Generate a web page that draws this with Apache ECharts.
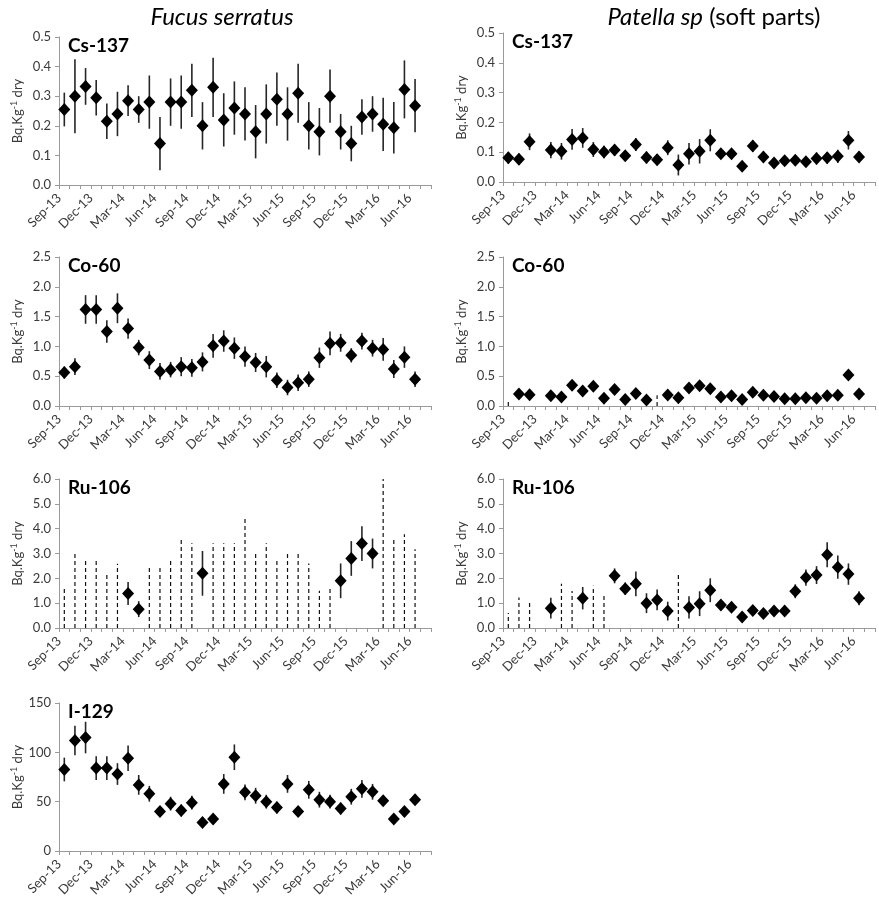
<!DOCTYPE html>
<html><head><meta charset="utf-8">
<script src="https://cdn.jsdelivr.net/npm/echarts@6/dist/echarts.min.js"></script>
<style>html,body{margin:0;padding:0;background:#fff}#c{width:879px;height:908px}</style>
</head><body><div id="c"></div>
<script>
// ---- Data ----
const months = ['Sep-13','Oct-13','Nov-13','Dec-13','Jan-14','Feb-14','Mar-14','Apr-14','May-14','Jun-14','Jul-14','Aug-14',
  'Sep-14','Oct-14','Nov-14','Dec-14','Jan-15','Feb-15','Mar-15','Apr-15','May-15','Jun-15','Jul-15','Aug-15',
  'Sep-15','Oct-15','Nov-15','Dec-15','Jan-16','Feb-16','Mar-16','Apr-16','May-16','Jun-16'];

// Fucus serratus
const fucusCs = [0.255,0.30,0.333,0.295,0.215,0.24,0.285,0.255,0.28,0.14,0.28,0.28,0.32,0.20,0.33,0.22,0.26,0.24,0.18,0.24,0.29,0.24,0.31,0.20,0.18,0.30,0.18,0.14,0.23,0.24,0.205,0.193,0.323,0.268];
const fucusCsErr = [0.057,0.125,0.062,0.06,0.06,0.075,0.052,0.045,0.09,0.09,0.08,0.09,0.09,0.08,0.10,0.09,0.09,0.09,0.09,0.10,0.09,0.09,0.10,0.08,0.08,0.09,0.06,0.06,0.06,0.06,0.09,0.087,0.098,0.09];

const fucusCo = [0.56,0.66,1.62,1.62,1.25,1.64,1.30,0.98,0.77,0.58,0.61,0.66,0.64,0.74,1.01,1.09,0.97,0.83,0.73,0.66,0.43,0.31,0.39,0.45,0.81,1.05,1.06,0.85,1.09,0.97,0.95,0.62,0.82,0.45];
const fucusCoErr = [0.10,0.14,0.24,0.24,0.19,0.25,0.17,0.13,0.15,0.14,0.13,0.16,0.15,0.16,0.20,0.18,0.18,0.17,0.16,0.18,0.13,0.13,0.14,0.13,0.17,0.20,0.15,0.12,0.14,0.14,0.19,0.15,0.18,0.13];

const fucusRu = [null,null,null,null,null,null,1.39,0.76,null,null,null,null,null,2.2,null,null,null,null,null,null,null,null,null,null,null,null,1.9,2.8,3.4,3.0,null,null,null,null];
const fucusRuErr = [null,null,null,null,null,null,0.46,0.32,null,null,null,null,null,0.9,null,null,null,null,null,null,null,null,null,null,null,null,0.7,0.7,0.7,0.6,null,null,null,null];
const fucusRuLimit = [1.57,2.98,2.75,2.72,2.17,2.59,null,null,2.42,2.42,2.79,3.6,3.41,null,3.41,3.41,3.41,4.42,2.99,3.41,2.8,3.02,3.02,2.6,1.5,1.61,null,null,null,null,6.0,3.58,3.78,3.17];

const fucusI = [82.6,112,115,84,84,78,94,67,58,40,48,41,49,29,32.5,68,95,59.5,56,50,44,68,40,62,52,50,43,55,63,60,51,32.5,40,52];
const fucusIErr = [12,15,16,12,12,11,13,10,8,5,7,6,7,3,3,10,13,8,8,7,6,9,4,9,8,7,6,8,9,8,5,3,4,4];

// Patella sp (soft parts)
const patCs = [0.081,0.076,0.135,null,0.107,0.103,0.143,0.148,0.109,0.101,0.107,0.088,0.126,0.082,0.075,0.115,0.057,0.095,0.103,0.14,0.095,0.095,0.053,0.121,0.084,0.064,0.071,0.073,0.068,0.079,0.081,0.086,0.14,0.084];
const patCsErr = [0.02,0.019,0.028,null,0.027,0.028,0.035,0.033,0.025,0.021,0.018,0.013,0.022,0.02,0.019,0.025,0.035,0.036,0.041,0.037,0.017,0.015,0.01,0.02,0.018,0.008,0.008,0.014,0.01,0.02,0.02,0.022,0.031,0.018];

const patCo = [null,0.20,0.19,null,0.17,0.15,0.35,0.25,0.33,0.13,0.275,0.11,0.21,0.10,null,0.185,0.14,0.30,0.34,0.29,0.15,0.17,0.11,0.23,0.18,0.16,0.12,0.12,0.14,0.13,0.17,0.18,0.52,0.20];
const patCoLimit = [0.08,null,null,null,null,null,null,null,null,null,null,null,null,null,0.18,null,null,null,null,null,null,null,null,null,null,null,null,null,null,null,null,null,null,null];

const patRu = [null,null,null,null,0.8,null,null,1.2,null,null,2.1,1.58,1.78,1.0,1.13,0.68,null,0.83,0.98,1.52,0.93,0.84,0.44,0.7,0.58,0.68,0.68,1.48,2.03,2.13,2.95,2.45,2.17,1.2];
const patRuErr = [null,null,null,null,0.42,null,null,0.45,null,null,0.3,0.25,0.5,0.4,0.42,0.38,null,0.45,0.5,0.48,0.2,0.12,0.1,0.12,0.1,0.1,0.1,0.28,0.33,0.36,0.5,0.47,0.43,0.28];
const patRuLimit = [0.6,1.23,1.11,null,null,1.78,1.49,null,1.7,1.41,null,null,null,null,null,null,2.25,null,null,null,null,null,null,null,null,null,null,null,null,null,null,null,null,null];

const nuclideLabels = ['Cs-137','Co-60','Ru-106','I-129'];
const speciesTitles = ['Fucus serratus','Patella sp'];

// ---- Layout ----
const FONT = 'Lato, "Open Sans", sans-serif';
const colLeft = [59, 503];
const gridW = 372;
const panels = [
  {col:0, top:37,  h:148, max:0.5, step:0.1, dec:1, lab:0, v:fucusCs, e:fucusCsErr, lim:null},
  {col:1, top:33,  h:149, max:0.5, step:0.1, dec:1, lab:0, v:patCs, e:patCsErr, lim:null},
  {col:0, top:257, h:149, max:2.5, step:0.5, dec:1, lab:1, v:fucusCo, e:fucusCoErr, lim:null},
  {col:1, top:257, h:149, max:2.5, step:0.5, dec:1, lab:1, v:patCo, e:null, lim:patCoLimit},
  {col:0, top:479, h:149, max:6, step:1, dec:1, lab:2, v:fucusRu, e:fucusRuErr, lim:fucusRuLimit},
  {col:1, top:479, h:149, max:6, step:1, dec:1, lab:2, v:patRu, e:patRuErr, lim:patRuLimit},
  {col:0, top:703, h:148, max:150, step:50, dec:0, lab:3, v:fucusI, e:fucusIErr, lim:null}
];

const grid = [], xAxis = [], yAxis = [], series = [], graphic = [];
const axisColor = '#9a9a9a', textColor = '#3a3a3a';

function lineItem(stroke, width, dash) {
  return function (params, api) {
    const x = api.value(0);
    const a = api.coord([x, api.value(1)]);
    const b = api.coord([x, api.value(2)]);
    return {type:'line', shape:{x1:a[0], y1:a[1], x2:b[0], y2:b[1]},
      style:{stroke:stroke, lineWidth:width, lineDash:dash || null}};
  };
}

panels.forEach((p, k) => {
  grid.push({left: colLeft[p.col], top: p.top, width: gridW, height: p.h});
  xAxis.push({
    type:'value', gridIndex:k, min:0, max:35, interval:1,
    splitLine:{show:false},
    axisLine:{lineStyle:{color:axisColor, width:1}},
    axisTick:{show:true, length:4, lineStyle:{color:axisColor}},
    axisLabel:{
      rotate:45, margin:11, fontSize:13, fontFamily:FONT, color:textColor,
      formatter: v => (v % 3 === 0 && v < months.length) ? months[v] : ''
    }
  });
  yAxis.push({
    type:'value', gridIndex:k, min:0, max:p.max, interval:p.step,
    splitLine:{show:false},
    axisLine:{show:true, lineStyle:{color:axisColor, width:1}},
    axisTick:{show:true, length:4, lineStyle:{color:axisColor}},
    axisLabel:{fontSize:13, fontFamily:FONT, color:textColor, margin:8,
      formatter: v => v.toFixed(p.dec)},
    name:'Bq.Kg{s|-1} dry', nameLocation:'middle', nameGap:34,
    nameTextStyle:{fontSize:13, fontFamily:FONT, color:textColor,
      rich:{s:{fontSize:9, fontFamily:FONT, color:textColor, padding:[0,0,6,0]}}}
  });
  const pts = [], bars = [], dashes = [];
  months.forEach((m, i) => {
    const x = i + 0.5;
    if (p.v[i] != null) {
      pts.push([x, p.v[i]]);
      if (p.e && p.e[i] != null) bars.push([x, p.v[i] - p.e[i], p.v[i] + p.e[i]]);
    }
    if (p.lim && p.lim[i] != null) dashes.push([x, 0, p.lim[i]]);
  });
  if (dashes.length) series.push({type:'custom', xAxisIndex:k, yAxisIndex:k, data:dashes,
    renderItem: lineItem('#111', 1.2, [4,3]), z:2, silent:true});
  if (bars.length) series.push({type:'custom', xAxisIndex:k, yAxisIndex:k, data:bars,
    renderItem: lineItem('#262626', 1.6), z:3, silent:true});
  series.push({type:'scatter', xAxisIndex:k, yAxisIndex:k, data:pts, symbol:'diamond',
    symbolSize:[12,13], itemStyle:{color:'#000', opacity:1}, z:5, silent:true});
  graphic.push({type:'text', left: colLeft[p.col] + 9, top: p.top - 1,
    style:{text: nuclideLabels[p.lab], font:'bold 19px ' + FONT, fill:'#000'}});
});

graphic.push({type:'text', x:222, y:17, style:{text: speciesTitles[0], font:'italic 24px ' + FONT, fill:'#000', align:'center', verticalAlign:'middle'}});
graphic.push({type:'text', x:714, y:17, style:{
  text:'{i|' + speciesTitles[1] + '}{n| (soft parts)}', align:'center', verticalAlign:'middle',
  rich:{i:{font:'italic 24px ' + FONT, fill:'#000'}, n:{font:'24px ' + FONT, fill:'#000'}}}});

const chart = echarts.init(document.getElementById('c'), null, {renderer:'canvas'});
chart.setOption({backgroundColor:'#fff', animation:false, grid, xAxis, yAxis, series, graphic});
</script></body></html>
